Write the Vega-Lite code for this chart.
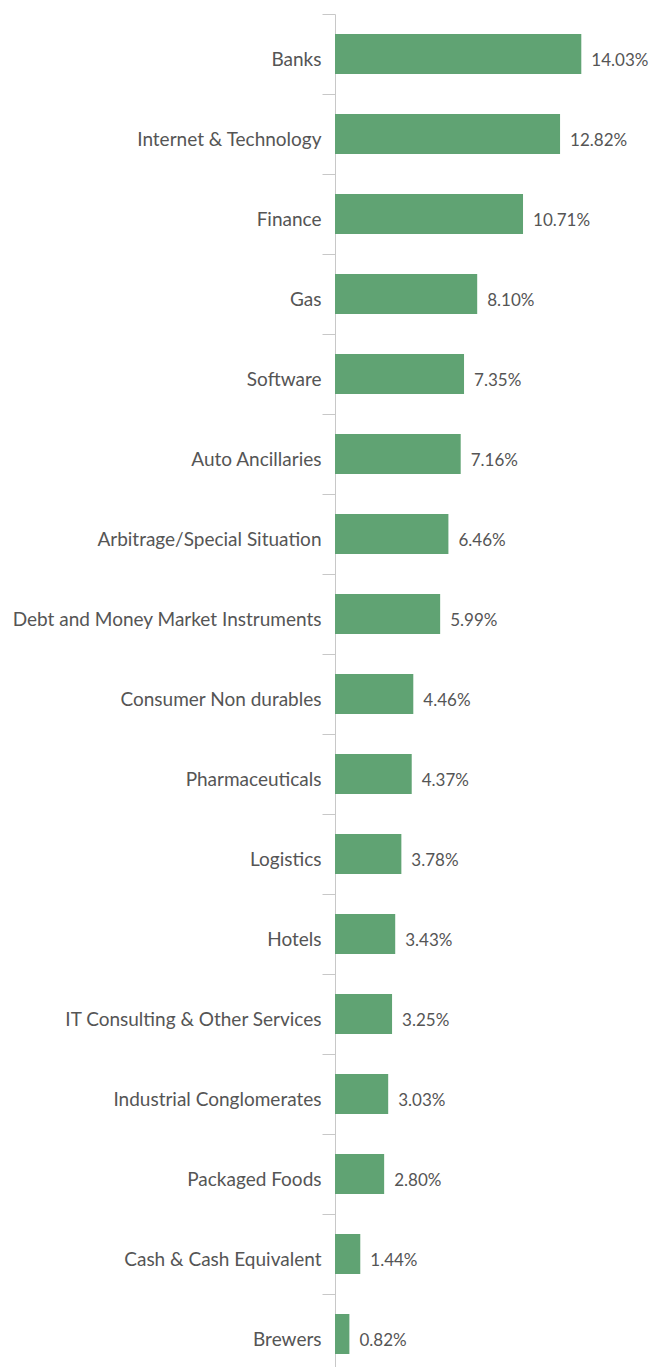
{
  "$schema": "https://vega.github.io/schema/vega-lite/v6.json",
  "autosize": {"type": "none"},
  "padding": {"left": 335, "top": 14, "right": 0, "bottom": 0},
  "width": 316,
  "height": 1360,
  "background": "white",
  "config": {"view": {"stroke": null}, "font": "Lato"},
  "data": {"values": [
    {"sector": "Banks", "value": 14.03},
    {"sector": "Internet & Technology", "value": 12.82},
    {"sector": "Finance", "value": 10.71},
    {"sector": "Gas", "value": 8.10},
    {"sector": "Software", "value": 7.35},
    {"sector": "Auto Ancillaries", "value": 7.16},
    {"sector": "Arbitrage/Special Situation", "value": 6.46},
    {"sector": "Debt and Money Market Instruments", "value": 5.99},
    {"sector": "Consumer Non durables", "value": 4.46},
    {"sector": "Pharmaceuticals", "value": 4.37},
    {"sector": "Logistics", "value": 3.78},
    {"sector": "Hotels", "value": 3.43},
    {"sector": "IT Consulting & Other Services", "value": 3.25},
    {"sector": "Industrial Conglomerates", "value": 3.03},
    {"sector": "Packaged Foods", "value": 2.80},
    {"sector": "Cash & Cash Equivalent", "value": 1.44},
    {"sector": "Brewers", "value": 0.82}
  ]},
  "transform": [{"calculate": "format(datum.value, '.2f') + '%'", "as": "label"}],
  "encoding": {
    "y": {
      "field": "sector", "type": "nominal", "sort": null,
      "scale": {"paddingInner": 0, "paddingOuter": 0},
      "axis": {
        "title": null, "tickBand": "extent", "tickSize": 13, "tickColor": "#c8c8c8",
        "domainColor": "#c8c8c8", "labelPadding": 1, "labelFontSize": 19,
        "labelColor": "#555555", "labelFont": "Lato", "labelLimit": 400, "labelOffset": 5
      }
    },
    "x": {
      "field": "value", "type": "quantitative",
      "scale": {"domain": [0, 18]},
      "axis": null
    }
  },
  "layer": [
    {"mark": {"type": "bar", "color": "#60a373", "height": {"band": 0.5}}},
    {
      "mark": {"type": "text", "align": "left", "dx": 10, "dy": 6.5, "fontSize": 17, "color": "#555555", "font": "Lato"},
      "encoding": {"text": {"field": "label", "type": "nominal"}}
    }
  ]
}
